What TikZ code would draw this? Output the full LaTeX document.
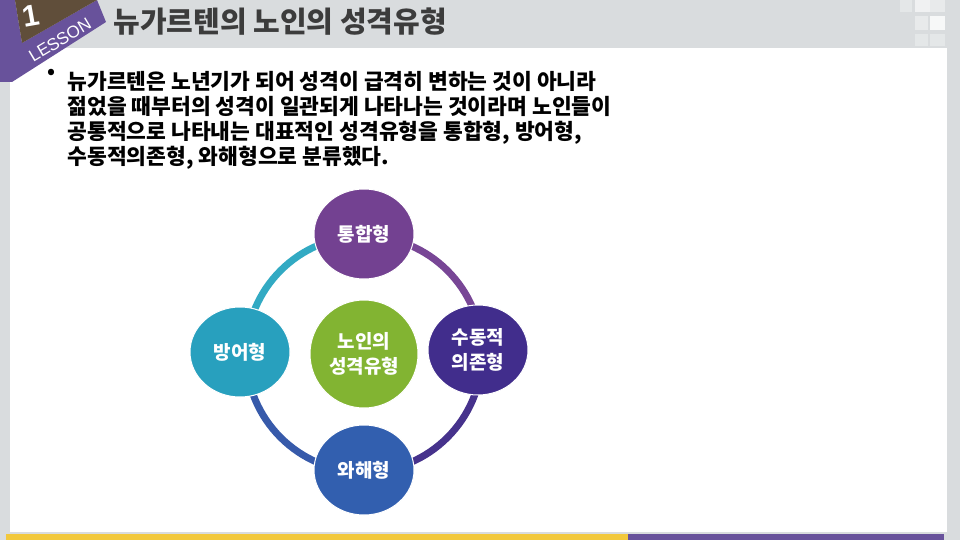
\documentclass[tikz,border=0pt]{standalone}
\usepackage{fontspec}
\setmainfont{Noto Sans CJK KR}
\newfontfamily\latinsans{Liberation Sans}
\definecolor{hdrgray}{RGB}{217,220,222}
\definecolor{badgebrown}{RGB}{96,78,58}
\definecolor{badgepurple}{RGB}{104,82,155}
\definecolor{baryellow}{RGB}{242,200,60}
\definecolor{barpurple}{RGB}{104,82,155}
\definecolor{titlegray}{RGB}{60,60,60}
\definecolor{ringteal}{RGB}{50,170,195}
\definecolor{ringpurple}{RGB}{120,70,150}
\definecolor{ringindigo}{RGB}{70,50,140}
\definecolor{ringblue}{RGB}{55,90,170}
\definecolor{nodeteal}{RGB}{40,160,190}
\definecolor{nodepurple}{RGB}{115,65,145}
\definecolor{nodeindigo}{RGB}{65,45,140}
\definecolor{nodeblue}{RGB}{50,95,175}
\definecolor{nodegreen}{RGB}{130,180,50}
\tikzset{
  ring/.style={line width=7pt},
  typenode/.style={ellipse, minimum width=100pt, minimum height=90pt, inner sep=0pt,
    text=white, font=\bfseries\fontsize{19}{25}\selectfont, align=center,
    draw=white, line width=1pt},
}
\usetikzlibrary{shapes.geometric}
\begin{document}
\begin{tikzpicture}[x=1pt,y=-1pt]
  \useasboundingbox (0,0) rectangle (960,540);
  % background and header
  \fill[hdrgray] (0,0) rectangle (960,540);
  \fill[white] (10,48) rectangle (947,532);
  \fill[white!60!hdrgray] (915,0) rectangle (930,12);
  \fill[white!80!hdrgray] (930,16) rectangle (945,30);
  \fill[white!40!hdrgray] (915,16) rectangle (928,30);
  \fill[white!40!hdrgray] (930,0) rectangle (945,12);
  \fill[white!30!hdrgray] (900,0) rectangle (912,12);
  \fill[white!30!hdrgray] (915,34) rectangle (928,46);
  \fill[white!30!hdrgray] (930,34) rectangle (945,46);
  \fill[baryellow] (6,534) rectangle (628,540);
  \fill[barpurple] (628,534) rectangle (944,540);
  % badge
  \fill[badgepurple] (0,0) -- (15,0) -- (22,43) -- (97,0) -- (106,22) -- (12,82) -- (0,82) -- cycle;
  \fill[badgebrown] (15,0) -- (97,0) -- (22,43) -- cycle;
  \node[text=white, font=\latinsans\bfseries\fontsize{30}{30}\selectfont, rotate=10] (lessonnum) at (31,16) {1};
  \node[text=white, font=\latinsans\fontsize{17}{17}\selectfont, rotate=31] (lessonword) at (60,40) {LESSON};
  \node[anchor=west, text=titlegray, font=\bfseries\fontsize{29}{32}\selectfont] (title) at (110,22) {뉴가르텐의 노인의 성격유형};
  % bullet text
  \node[anchor=north west, font=\bfseries\fontsize{20}{25}\selectfont] (bullet) at (44,66) {•};
  \node[anchor=north west, align=left, font=\bfseries\fontsize{21.5}{25}\selectfont] (body) at (64,68)
    {뉴가르텐은 노년기가 되어 성격이 급격히 변하는 것이 아니라\\
     젊었을 때부터의 성격이 일관되게 나타나는 것이라며 노인들이\\
     공통적으로 나타내는 대표적인 성격유형을 통합형, 방어형,\\
     수동적의존형, 와해형으로 분류했다.};
  % ring
  \draw[ring, ringteal] (246,354) arc[start angle=180, end angle=270, radius=118];
  \draw[ring, ringpurple] (364,236) arc[start angle=270, end angle=360, radius=118];
  \draw[ring, ringindigo] (482,354) arc[start angle=0, end angle=90, radius=118];
  \draw[ring, ringblue] (364,472) arc[start angle=90, end angle=180, radius=118];
  % nodes
  \node[typenode, fill=nodepurple] (integrated) at (364,234) {통합형};
  \node[typenode, fill=nodeteal] (defensive) at (240,352) {방어형};
  \node[typenode, fill=nodeindigo] (dependent) at (478,350) {수동적\\의존형};
  \node[typenode, fill=nodeblue] (disorganized) at (364,470) {와해형};
  \node[typenode, fill=nodegreen, minimum width=108pt, minimum height=108pt] (center) at (364,354) {노인의\\성격유형};
\end{tikzpicture}
\end{document}
